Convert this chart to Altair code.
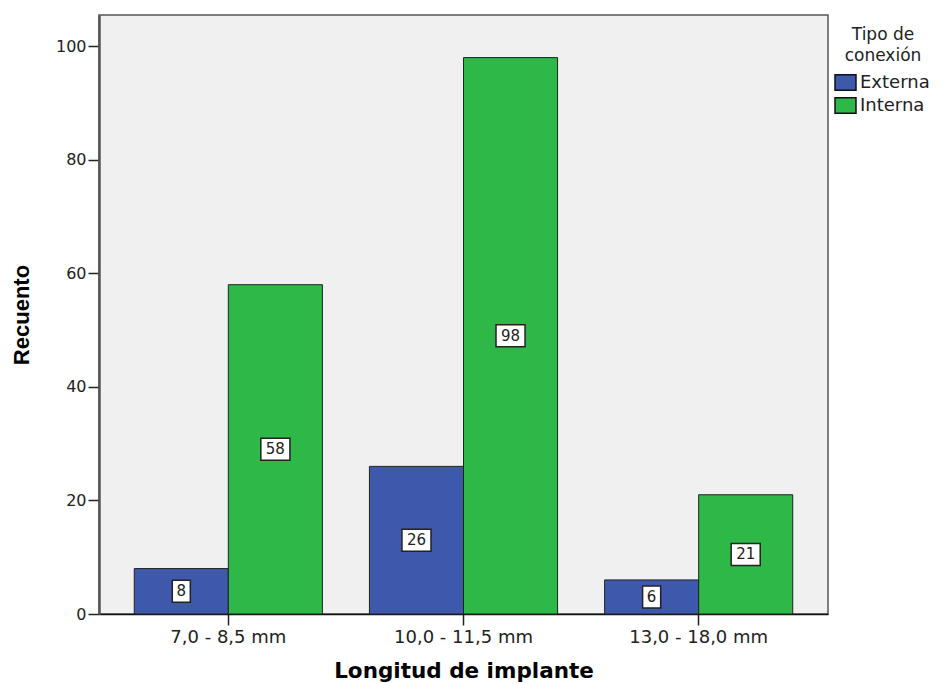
import altair as alt
import pandas as pd

categories = ["7,0 - 8,5 mm", "10,0 - 11,5 mm", "13,0 - 18,0 mm"]
series = ["Externa", "Interna"]
externa = [8, 26, 6]
interna = [58, 98, 21]
colors = ["#3E58AC", "#2EB848"]
y_ticks = [0, 20, 40, 60, 80, 100]

rows = []
for c, e, i in zip(categories, externa, interna):
    rows.append({"cat": c, "tipo": "Externa", "n": e})
    rows.append({"cat": c, "tipo": "Interna", "n": i})
df = pd.DataFrame(rows)
df["box"] = df["n"].astype(str).str.len().map(lambda d: "d%d" % d)

box1 = "M-0.82,-1L0.82,-1L0.82,1L-0.82,1Z"
box2 = "M-1.32,-1L1.32,-1L1.32,1L-1.32,1Z"
legend_sym = "M-1.2,-0.9L1.2,-0.9L1.2,0.9L-1.2,0.9Z"

x_enc = alt.X(
    "cat:N",
    sort=categories,
    scale=alt.Scale(paddingInner=0.2, paddingOuter=0.15),
    axis=alt.Axis(
        labelAngle=0,
        tickSize=11,
        tickColor="#222",
        tickWidth=1.5,
        domainColor="#111",
        domainWidth=1.5,
        labelFont="DejaVu Sans",
        labelFontSize=18,
        labelColor="#222",
        labelPadding=3,
        title="Longitud de implante",
        titleFont="DejaVu Sans",
        titleFontSize=21.5,
        titleFontWeight="bold",
        titleColor="#000",
        titleY=46,
        titleBaseline="top",
    ),
)
xoff = alt.XOffset("tipo:N", sort=series, scale=alt.Scale(paddingInner=0, paddingOuter=0))

y_axis = alt.Axis(
    values=y_ticks,
    grid=False,
    tickSize=11,
    tickColor="#222",
    tickWidth=1.5,
    domainColor="#555",
    domainWidth=2.5,
    labelFont="DejaVu Sans",
    labelFontSize=16,
    labelColor="#222",
    labelPadding=2,
    title="Recuento",
    titleFont="Liberation Sans",
    titleFontSize=22,
    titleFontWeight="bold",
    titleColor="#000",
    titleX=-66,
    titleY=299.5,
)
y_scale = alt.Scale(domain=[0, 105.5], nice=False)

base = alt.Chart(df)

bars = base.mark_bar(stroke="#222", strokeWidth=1, opacity=1).encode(
    x=x_enc,
    xOffset=xoff,
    y=alt.Y("n:Q", scale=y_scale, axis=y_axis),
    color=alt.Color(
        "tipo:N",
        sort=series,
        scale=alt.Scale(domain=series, range=colors),
        legend=alt.Legend(
            title=["Tipo de", "conexión"],
            orient="none",
            legendX=737,
            legendY=12,
            padding=0,
            titleFont="DejaVu Sans",
            titleFontSize=17,
            titleFontWeight="normal",
            titleColor="#222",
            titleAlign="center",
            titleAnchor="middle",
            titleLineHeight=21,
            titlePadding=8,
            labelFont="DejaVu Sans",
            labelFontSize=18,
            labelColor="#222",
            labelOffset=5,
            symbolType=legend_sym,
            symbolSize=306,
            symbolStrokeColor="#111",
            symbolStrokeWidth=1.5,
            symbolOpacity=1,
            rowPadding=0,
        ),
    ),
)

boxes = base.transform_calculate(mid="datum.n / 2").mark_point(
    filled=True, fill="white", stroke="#222", strokeWidth=1.5, opacity=1, size=484
).encode(
    x=alt.X("cat:N", sort=categories),
    xOffset=alt.XOffset("tipo:N", sort=series),
    y=alt.Y("mid:Q", scale=y_scale),
    shape=alt.Shape("box:N", scale=alt.Scale(domain=["d1", "d2"], range=[box1, box2]), legend=None),
)

labels = base.transform_calculate(mid="datum.n / 2").mark_text(
    font="DejaVu Sans", fontSize=15, color="#222", baseline="middle", align="center"
).encode(
    x=alt.X("cat:N", sort=categories),
    xOffset=alt.XOffset("tipo:N", sort=series),
    y=alt.Y("mid:Q", scale=y_scale),
    text="n:Q",
)

chart = alt.layer(bars, boxes, labels).properties(
    width=729,
    height=599,
    autosize=alt.AutoSizeParams(type="none"),
    padding={"left": 99, "top": 15, "right": 118, "bottom": 70},
    background="white",
).configure_view(
    fill="#F0F0F0", stroke="#555", strokeWidth=1.5
)

chart.save("out.html", embed_options={"renderer": "svg", "actions": False})
